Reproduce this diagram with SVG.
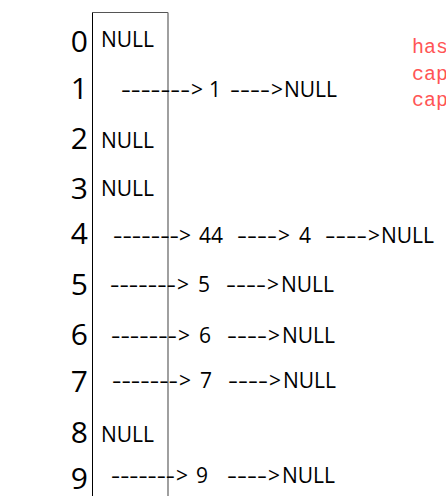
<svg xmlns="http://www.w3.org/2000/svg" width="446" height="496" viewBox="0 0 446 496">
<style>
.idx{font-family:"Open Sans","Noto Sans",sans-serif;font-size:30px;fill:#000;text-anchor:end}
.t{font-family:"Open Sans","Noto Sans",sans-serif;font-size:21px;fill:#000}
.red{font-family:"Liberation Mono",monospace;font-size:20px;fill:#f55}
</style>
<rect width="446" height="496" fill="#fff"/>
<g id="table">
<line x1="92.5" y1="12.5" x2="168" y2="12.5" stroke="#555" stroke-width="1"/>
<line x1="92.5" y1="12.5" x2="92.5" y2="496" stroke="#000" stroke-width="1"/>
<line x1="168" y1="12.5" x2="168" y2="496" stroke="#777" stroke-width="1.4"/>
</g>
<g id="row0"><text class="idx" x="88" y="52">0</text><text class="t" x="101" y="47">NULL</text></g>
<g id="row1"><text class="idx" x="88" y="99">1</text>
<text class="t" x="121" y="97" textLength="69" lengthAdjust="spacingAndGlyphs">-------</text>
<text class="t" x="191" y="97">&gt;</text>
<text class="t" x="209" y="97">1</text>
<text class="t" x="230" y="97" textLength="40" lengthAdjust="spacingAndGlyphs">----</text>
<text class="t" x="271" y="97">&gt;</text>
<text class="t" x="284" y="97">NULL</text></g>
<g id="row2"><text class="idx" x="88" y="149">2</text><text class="t" x="101" y="148">NULL</text></g>
<g id="row3"><text class="idx" x="88" y="199">3</text><text class="t" x="101" y="196">NULL</text></g>
<g id="row4"><text class="idx" x="88" y="244">4</text>
<text class="t" x="113" y="243" textLength="66" lengthAdjust="spacingAndGlyphs">-------</text>
<text class="t" x="179" y="243">&gt;</text>
<text class="t" x="199" y="243">44</text>
<text class="t" x="237" y="243" textLength="40" lengthAdjust="spacingAndGlyphs">----</text>
<text class="t" x="278" y="243">&gt;</text>
<text class="t" x="299" y="243">4</text>
<text class="t" x="325" y="243" textLength="42" lengthAdjust="spacingAndGlyphs">----</text>
<text class="t" x="368" y="243">&gt;</text>
<text class="t" x="381" y="243">NULL</text></g>
<g id="row5"><text class="idx" x="88" y="295">5</text>
<text class="t" x="110" y="292" textLength="66" lengthAdjust="spacingAndGlyphs">-------</text>
<text class="t" x="177" y="292">&gt;</text>
<text class="t" x="198" y="292">5</text>
<text class="t" x="226" y="292" textLength="40" lengthAdjust="spacingAndGlyphs">----</text>
<text class="t" x="267" y="292">&gt;</text>
<text class="t" x="281" y="292">NULL</text></g>
<g id="row6"><text class="idx" x="88" y="345">6</text>
<text class="t" x="111" y="343" textLength="66" lengthAdjust="spacingAndGlyphs">-------</text>
<text class="t" x="178" y="343">&gt;</text>
<text class="t" x="199" y="343">6</text>
<text class="t" x="227" y="343" textLength="40" lengthAdjust="spacingAndGlyphs">----</text>
<text class="t" x="268" y="343">&gt;</text>
<text class="t" x="282" y="343">NULL</text></g>
<g id="row7"><text class="idx" x="88" y="392">7</text>
<text class="t" x="112" y="388" textLength="66" lengthAdjust="spacingAndGlyphs">-------</text>
<text class="t" x="179" y="388">&gt;</text>
<text class="t" x="200" y="388">7</text>
<text class="t" x="228" y="388" textLength="40" lengthAdjust="spacingAndGlyphs">----</text>
<text class="t" x="269" y="388">&gt;</text>
<text class="t" x="283" y="388">NULL</text></g>
<g id="row8"><text class="idx" x="88" y="443">8</text><text class="t" x="101" y="442">NULL</text></g>
<g id="row9"><text class="idx" x="88" y="489">9</text>
<text class="t" x="111" y="483" textLength="64" lengthAdjust="spacingAndGlyphs">-------</text>
<text class="t" x="176" y="483">&gt;</text>
<text class="t" x="196" y="483">9</text>
<text class="t" x="227" y="483" textLength="40" lengthAdjust="spacingAndGlyphs">----</text>
<text class="t" x="268" y="483">&gt;</text>
<text class="t" x="282" y="483">NULL</text></g>
<g id="note">
<text class="red" x="412" y="53">has</text>
<text class="red" x="412" y="80">cap</text>
<text class="red" x="412" y="106">cap</text>
</g>
</svg>
